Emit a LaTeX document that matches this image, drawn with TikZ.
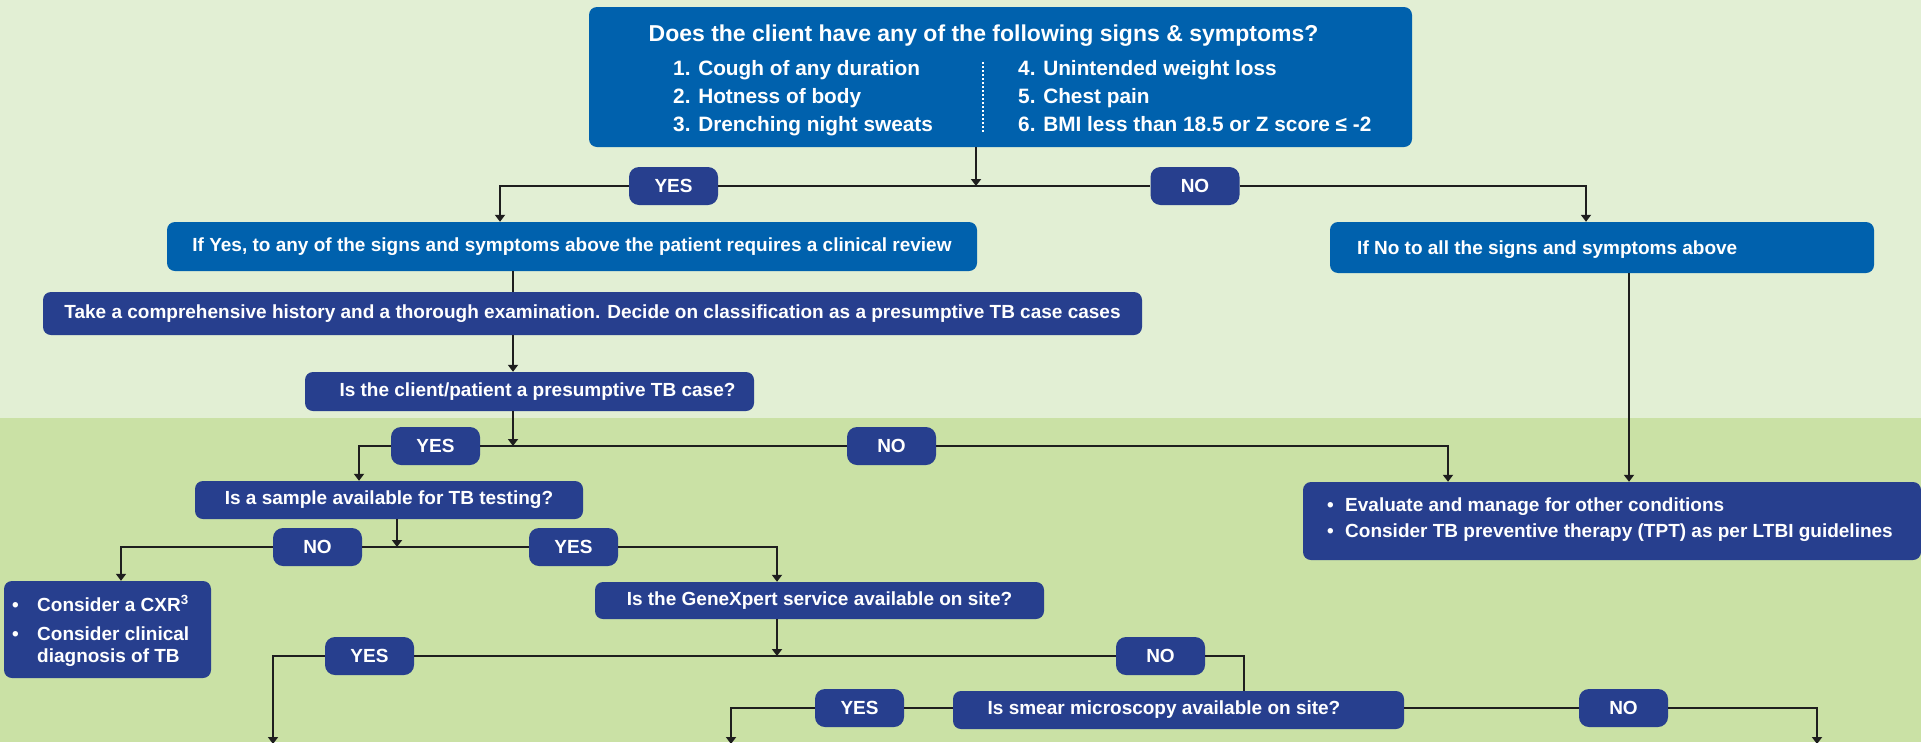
\documentclass[tikz,border=0pt]{standalone}
\usepackage{fontspec}
\setmainfont{Liberation Sans}
\usetikzlibrary{arrows.meta,calc}
\definecolor{topbg}{HTML}{E2EFD4}
\definecolor{botbg}{HTML}{CAE1A5}
\definecolor{lblue}{HTML}{0061AD}
\definecolor{dblue}{HTML}{273F8E}
\definecolor{linec}{HTML}{1E1E1E}
\newcommand\myfs[1]{\bfseries\fontsize{#1}{#1}\selectfont}
\begin{document}
\begin{tikzpicture}[x=1pt,y=-1pt,
  box/.style={rounded corners=8pt, inner sep=0pt, text=white, font=\myfs{19}},
  lbox/.style={box, fill=lblue},
  dbox/.style={box, fill=dblue},
  lab/.style={dbox, rounded corners=10pt, minimum width=89pt, minimum height=38pt, font=\myfs{19}},
  conn/.style={draw=linec, line width=1.8pt},
  arr/.style={conn, -{Triangle[length=7pt,width=10pt]}},
  txt/.style={text=white, inner sep=0pt, font=\myfs{19}, anchor=base west}]
\useasboundingbox (0,0) rectangle (1921,742);
\clip (0,0) rectangle (1921,742);
\fill[topbg] (0,0) rectangle (1921,418);
\fill[botbg] (0,418) rectangle (1921,742);

% top question
\node[lbox, minimum width=823pt, minimum height=140pt] (top) at (1000.5,77) {};
\node[txt, anchor=base, font=\myfs{23}] (title) at (983.5,41) {Does the client have any of the following signs \& symptoms?};
\node[txt, font=\myfs{20.8}] (s1) at (673,75) {1. Cough of any duration};
\node[txt, font=\myfs{20.8}] (s2) at (673,103) {2. Hotness of body};
\node[txt, font=\myfs{20.8}] (s3) at (673,131) {3. Drenching night sweats};
\node[txt, font=\myfs{20.8}] (s4) at (1018,75) {4. Unintended weight loss};
\node[txt, font=\myfs{20.8}] (s5) at (1018,103) {5. Chest pain};
\node[txt, font=\myfs{20.8}] (s6) at (1018,131) {6. BMI less than 18.5 or Z score ≤ -2};
\draw[white, line width=1.6pt, dash pattern=on 1.6pt off 2.4pt] (983,62) -- (983,132);

% first branch
\node[lab] (yes1) at (673.5,186) {YES};
\node[lab] (no1) at (1195,186) {NO};
\node[lbox, minimum width=810pt, minimum height=49pt] (ifyes) at (572,246.5) {If Yes, to any of the signs and symptoms above the patient requires a clinical review};
\node[lbox, minimum width=544pt, minimum height=51pt] (ifno) at (1602,247.5) {};
\node[txt] (ifnot) at (1357,254) {If No to all the signs and symptoms above};
\node[dbox, minimum width=1099pt, minimum height=43pt] (take) at (592.5,313.5) {Take a comprehensive history and a thorough examination. Decide on classification as a presumptive TB case cases};
\node[dbox, minimum width=449pt, minimum height=39pt] (pres) at (529.5,391.5) {};
\node[txt, anchor=base] (prest) at (537.5,396) {Is the client/patient a presumptive TB case?};

% second branch
\node[lab] (yes2) at (435.5,446) {YES};
\node[lab] (no2) at (891.5,446) {NO};
\node[dbox, minimum width=388pt, minimum height=38pt] (sample) at (389,500) {Is a sample available for TB testing?};
\node[dbox, minimum width=618pt, minimum height=78pt] (eval) at (1612,521) {};
\node[txt] (eb1) at (1327,511) {•};
\node[txt] (ev1) at (1345,511) {Evaluate and manage for other conditions};
\node[txt] (eb2) at (1327,537) {•};
\node[txt] (ev2) at (1345,537) {Consider TB preventive therapy (TPT) as per LTBI guidelines};

% third branch
\node[lab] (no3) at (317.5,547) {NO};
\node[lab] (yes3) at (573.5,547) {YES};
\node[dbox, minimum width=207pt, minimum height=97pt] (cxr) at (107.5,629.5) {};
\node[txt] (cb1) at (12,611) {•};
\node[txt] (c1) at (37,611) {Consider a CXR\textsuperscript{3}};
\node[txt] (cb2) at (12,640) {•};
\node[txt] (c2) at (37,640) {Consider clinical};
\node[txt] (c3) at (37,662) {diagnosis of TB};
\node[dbox, minimum width=449pt, minimum height=37pt] (gx) at (819.5,600.5) {Is the GeneXpert service available on site?};

% fourth branch
\node[lab] (yes4) at (369.5,656) {YES};
\node[lab] (no4) at (1160.5,656) {NO};
\node[dbox, minimum width=451pt, minimum height=38pt] (smear) at (1178.5,710) {};
\node[txt, anchor=base] (smeart) at (1164,714) {Is smear microscopy available on site?};
\node[lab] (yes5) at (859.5,708) {YES};
\node[lab] (no5) at (1623.5,708) {NO};

% coordinates
\coordinate (j1) at (976,186);
\coordinate (xa) at (500,0);
\coordinate (xb) at (1586,0);
\coordinate (xc) at (513,0);
\coordinate (j2) at (513,446);
\coordinate (xd) at (359,0);
\coordinate (xe) at (1448,0);
\coordinate (xf) at (1629,0);
\coordinate (j3) at (397,547);
\coordinate (xg) at (121,0);
\coordinate (xh) at (777,0);
\coordinate (j4) at (777,656);
\coordinate (b1) at (273,744);
\coordinate (xi) at (1244,0);
\coordinate (b2) at (731,744);
\coordinate (b3) at (1817,744);

% connectors
\draw[arr] (top.south -| j1) -- (j1);
\draw[arr] (yes1.west) -| (xa |- ifyes.north);
\draw[conn] (yes1.east) -- (no1.west);
\draw[arr] (no1.east) -| (xb |- ifno.north);
\draw[conn] (xc |- ifyes.south) -- (xc |- take.north);
\draw[arr] (xc |- take.south) -- (xc |- pres.north);
\draw[arr] (xc |- pres.south) -- (j2);
\draw[arr] (yes2.west) -| (xd |- sample.north);
\draw[conn] (yes2.east) -- (no2.west);
\draw[arr] (no2.east) -| (xe |- eval.north);
\draw[arr] (xf |- ifno.south) -- (xf |- eval.north);
\draw[arr] (j3 |- sample.south) -- (j3);
\draw[arr] (no3.west) -| (xg |- cxr.north);
\draw[conn] (no3.east) -- (yes3.west);
\draw[arr] (yes3.east) -| (xh |- gx.north);
\draw[arr] (j4 |- gx.south) -- (j4);
\draw[arr] (yes4.west) -| (b1);
\draw[conn] (yes4.east) -- (no4.west);
\draw[conn] (no4.east) -| (xi |- smear.north);
\draw[conn] (yes5.east) -- (yes5.east -| smear.west);
\draw[arr] (yes5.west) -| (b2);
\draw[conn] (no5.west -| smear.east) -- (no5.west);
\draw[arr] (no5.east) -| (b3);
\end{tikzpicture}
\end{document}
